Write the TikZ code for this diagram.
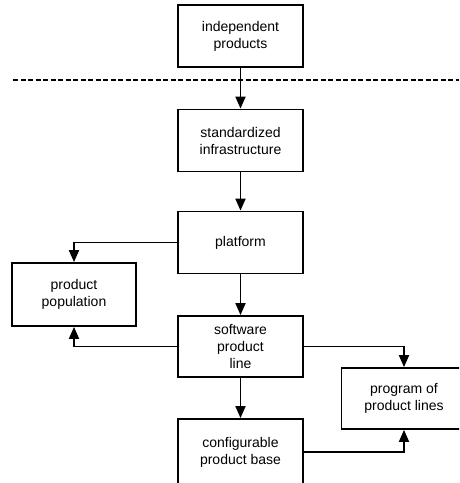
\documentclass[tikz,border=0pt]{standalone}
\usepackage{fontspec}
\setmainfont{Liberation Sans}
\usetikzlibrary{arrows.meta}
\begin{document}
\begin{tikzpicture}[x=1pt,y=-1pt,
  box/.style={draw, line width=1.8pt, minimum width=125pt, minimum height=62pt,
    inner sep=0pt, align=center, font=\fontsize{14}{17}\selectfont},
  link/.style={line width=1.8pt, -{Triangle[length=12pt,width=10pt]}},
  divider/.style={line width=1.6pt, dash pattern=on 5pt off 2.5pt}]
  \useasboundingbox (0,0) rectangle (459,483);
  \clip (0,0) rectangle (459,483);

  % stages of the evolution
  \node[box] (indep) at (240.5,36) {independent\\products};
  \node[box] (std) at (240.5,140.5) {standardized\\infrastructure};
  \node[box] (plat) at (240.5,242.5) {platform};
  \node[box, minimum width=124pt, minimum height=63pt] (pop) at (74,294.5) {product\\population};
  \node[box, minimum height=61pt] (spl) at (240.5,346.5) {software\\product\\line};
  \node[box, minimum height=61pt] (prog) at (404,398.5) {program of\\product lines};
  \node[box, minimum height=66pt] (conf) at (240.5,452) {configurable\\product base};

  % boundary below the first stage
  \coordinate (dl) at (13,80);
  \coordinate (dr) at (459,80);
  \draw[divider] (dl) -- (dr);

  % transitions
  \draw[link] (indep) -- (std);
  \draw[link] (std) -- (plat);
  \draw[link] (plat) -- (spl);
  \draw[link] (spl) -- (conf);
  \draw[link] (plat.west) -| (pop.north);
  \draw[link] (spl.west) -| (pop.south);
  \draw[link] (spl.east) -| (prog.north);
  \draw[link] (conf.east) -| (prog.south);
\end{tikzpicture}
\end{document}
